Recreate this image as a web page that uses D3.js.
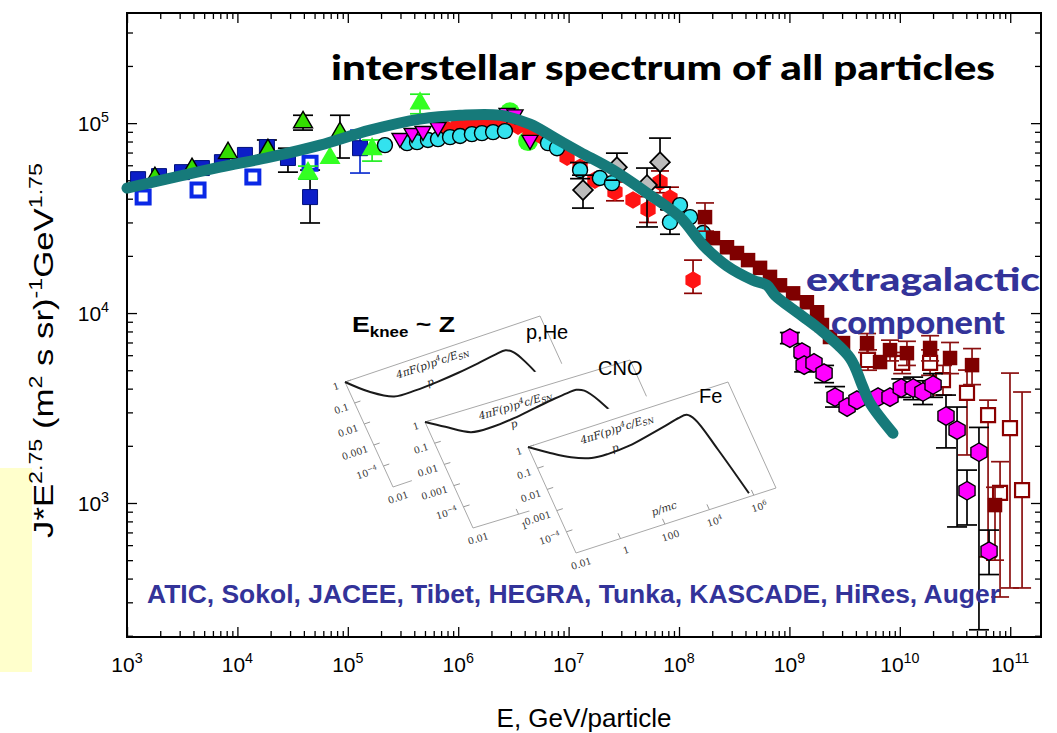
<!DOCTYPE html>
<html>
<head>
<meta charset="utf-8">
<script src="https://cdn.jsdelivr.net/npm/d3@7"></script>
<style>
  html, body { margin: 0; padding: 0; background: #fff; }
  svg { display: block; }
</style>
</head>
<body>
<svg id="chart" width="1057" height="733"></svg>
<script>
// ---------------------------------------------------------------
// Cosmic-ray all-particle spectrum, J*E^2.75 vs energy per particle.
// Rows are [E (GeV), J*E^2.75, lower error, upper error].
// ---------------------------------------------------------------
const xDecades = [3, 4, 5, 6, 7, 8, 9, 10, 11];
const yDecades = [3, 4, 5];

const aticFilled = [
  [1.26e3, 5.07e4], [1.95e3, 5.26e4], [3.15e3, 5.52e4], [4.77e3, 5.80e4],
  [7.24e3, 6.23e4], [1.17e4, 6.80e4], [1.85e4, 7.48e4, 6.80e4, 8.15e4],
  [2.87e4, 6.55e4, 5.52e4, 7.38e4], [4.55e4, 4.08e4, 2.98e4, 5.66e4]
];
const aticFilledHigh = [[1.29e5, 7.38e4, 5.46e4, 9.19e4]];
const sokolOpen = [[1.40e3, 4.08e4], [4.40e3, 4.44e4], [1.38e4, 5.20e4], [4.55e4, 6.15e4]];

const jaceeTri = [
  [1.79e3, 5.14e4], [3.88e3, 5.73e4], [8.22e3, 6.95e4], [1.89e4, 7.21e4],
  [3.93e4, 1.01e5, 9.19e4, 1.10e5], [8.49e4, 8.86e4, 6.55e4, 1.10e5]
];
const runjobTri = [
  [4.36e4, 5.46e4, 5.07e4, 5.94e4], [6.90e4, 6.55e4],
  [1.66e5, 7.29e4, 6.31e4, 8.15e4], [4.51e5, 1.27e5, 1.12e5, 1.42e5]
];
const runjobCircle = [[2.94e6, 1.14e5], [4.29e6, 8.04e4]];

const hegraTri = [
  [2.97e5, 8.34e4], [3.82e5, 8.86e4], [4.80e5, 9.08e4], [6.56e5, 9.53e4],
  [2.77e6, 1.13e5], [3.27e6, 1.11e5], [4.47e6, 8.15e4]
];

const tibetCircle = [
  [2.17e5, 7.66e4], [3.44e5, 7.85e4], [4.24e5, 7.94e4], [5.32e5, 8.15e4],
  [6.56e5, 8.24e4], [8.43e5, 8.44e4], [1.04e6, 8.55e4], [1.33e6, 8.75e4],
  [1.64e6, 8.86e4], [2.07e6, 8.97e4], [2.65e6, 9.08e4], [6.50e6, 7.85e4],
  [7.85e6, 7.38e4], [1.27e7, 5.66e4, 5.10e4, 6.20e4], [1.92e7, 5.14e4],
  [2.47e7, 4.83e4], [8.28e7, 3.01e4, 2.60e4, 3.50e4], [1.02e8, 3.70e4],
  [1.26e8, 3.20e4], [1.65e8, 2.64e4]
];

const kascadeHex = [
  [7.59e5, 9.42e4], [9.95e5, 9.64e4], [1.28e6, 9.76e4], [1.64e6, 9.76e4],
  [2.11e6, 9.88e4], [2.71e6, 9.88e4], [3.48e6, 9.64e4], [4.47e6, 9.19e4],
  [5.51e6, 8.65e4], [7.08e6, 7.85e4], [9.68e6, 6.62e4], [1.27e7, 5.86e4],
  [1.73e7, 5.01e4], [2.63e7, 4.34e4, 3.90e4, 4.90e4], [3.83e7, 3.94e4],
  [5.24e7, 3.52e4, 3.00e4, 4.10e4], [6.73e7, 4.89e4, 4.30e4, 5.60e4],
  [8.28e7, 4.03e4, 3.50e4, 4.60e4], [1.34e8, 1.49e4, 1.27e4, 1.90e4]
];

const tunkaDiamond = [
  [1.35e7, 4.44e4, 3.57e4, 5.32e4], [2.74e7, 5.86e4, 5.01e4, 6.95e4],
  [5.13e7, 4.72e4, 2.84e4, 5.80e4], [6.73e7, 6.23e4, 4.60e4, 8.34e4]
];

const hiresFilled = [
  [1.72e8, 3.20e4, 2.70e4, 3.80e4], [2.03e8, 2.48e4], [2.72e8, 2.22e4],
  [3.35e8, 2.07e4], [4.22e8, 1.90e4], [5.42e8, 1.73e4], [6.67e8, 1.55e4],
  [8.22e8, 1.40e4], [1.08e9, 1.27e4], [1.44e9, 1.14e4], [1.78e9, 1.01e4],
  [1.97e9, 8.65e3], [2.33e9, 7.48e3], [3.06e9, 6.95e3],
  [5.05e9, 6.95e3, 6.20e3, 7.80e3], [6.62e9, 5.52e3],
  [8.15e9, 6.38e3, 5.60e3, 7.20e3], [1.16e10, 6.15e3, 5.30e3, 7.10e3],
  [1.88e10, 6.55e3, 5.60e3, 7.60e3], [2.85e10, 5.80e3, 4.80e3, 7.00e3],
  [4.51e10, 5.32e3, 4.20e3, 6.50e3], [7.28e10, 975, 500, 1.21e3]
];
const hiresOpen = [
  [5.15e9, 5.66e3, 5.00e3, 6.40e3], [1.05e10, 5.46e3, 4.80e3, 6.20e3],
  [1.88e10, 5.46e3, 4.70e3, 6.40e3], [2.46e10, 4.44e3, 3.70e3, 5.30e3],
  [4.06e10, 3.80e3, 1.79e3, 5.01e3], [6.30e10, 2.90e3, 520, 3.48e3],
  [9.95e10, 2.48e3, 357, 4.83e3], [8.09e10, 1.13e3, 320, 1.65e3],
  [1.28e11, 1.17e3, 357, 3.84e3]
];

const augerHex = [
  [1.01e9, 7.38e3, 6.90e3, 7.90e3], [1.30e9, 6.23e3], [1.36e9, 5.32e3, 4.90e3, 5.80e3],
  [1.67e9, 5.46e3], [2.06e9, 4.83e3, 4.30e3, 5.30e3], [2.59e9, 3.61e3, 3.20e3, 4.10e3],
  [3.33e9, 3.20e3], [4.09e9, 3.48e3], [6.35e9, 3.61e3], [8.15e9, 3.61e3],
  [1.03e10, 4.03e3, 3.60e3, 4.50e3], [1.32e10, 4.03e3, 3.50e3, 4.60e3],
  [1.62e10, 3.84e3, 3.30e3, 4.40e3], [2.00e10, 4.18e3, 3.60e3, 4.80e3],
  [2.62e10, 2.87e3, 1.95e3, 3.70e3], [3.30e10, 2.42e3, 748, 3.20e3],
  [5.21e10, 1.85e3, 215, 2.50e3], [4.06e10, 1.16e3, 766, 1.49e3],
  [6.43e10, 558, 420, 720]
];

// Galactic (interstellar) model spectrum
const modelE = [1.00e3, 2.72e3, 6.95e3, 1.97e4, 5.60e4, 1.59e5, 4.51e5, 1.04e6, 2.39e6,
  4.47e6, 7.53e6, 1.27e7, 2.52e7, 5.13e7, 1.02e8, 1.65e8, 2.72e8, 4.68e8, 6.27e8,
  7.41e8, 1.17e9, 1.78e9, 3.54e9, 4.55e9, 5.37e9, 8.67e9];
const modelJ = [4.55e4, 5.20e4, 5.86e4, 6.62e4, 7.66e4, 9.19e4, 1.05e5, 1.10e5, 1.10e5,
  9.88e4, 8.34e4, 7.03e4, 5.66e4, 4.29e4, 3.20e4, 2.28e4, 1.77e4, 1.49e4, 1.40e4,
  1.24e4, 1.01e4, 8.43e3, 5.80e3, 4.18e3, 3.36e3, 2.33e3];

// Source spectra 4πF(p)p^4c/E_SN versus p/mc for three groups of nuclei
const pHeP = [0.01, 0.063, 0.5, 5, 50, 500, 5000, 3.2e4, 1e5, 2e5, 4e5, 8e5, 2e6];
const pHeF = [1, 0.18, 0.052, 0.047, 0.052, 0.063, 0.083, 0.107, 0.117, 0.071, 0.018, 0.0025, 6.3e-5];
const cnoP = [0.01, 0.05, 0.4, 3.2, 32, 320, 2500, 1e4, 2.5e4, 5e4, 1.26e5, 3.2e5, 8e5];
const cnoF = [1, 0.35, 0.1, 0.089, 0.11, 0.16, 0.22, 0.26, 0.275, 0.2, 0.05, 0.005, 3.2e-5];
const feP = [0.01, 0.05, 0.32, 2, 10, 100, 1000, 6300, 2.5e4, 6.3e4, 1.1e5, 2.5e5, 7e5];
const feF = [1, 0.32, 0.1, 0.05, 0.044, 0.05, 0.076, 0.11, 0.15, 0.16, 0.08, 0.0025, 1.4e-5];
const panelYTicks = [1, 0.1, 0.01, 0.001, 1e-4];
const panelYLabels = ["1", "0.1", "0.01", "0.001", "10^-4"];
const panelXTicks = [1, 100, 1e4, 1e6];
const panelXLabels = ["1", "100", "10^4", "10^6"];

const experiments = "ATIC, Sokol, JACEE, Tibet, HEGRA, Tunka, KASCADE, HiRes, Auger";

// ---------------------------------------------------------------
const svg = d3.select("#chart");
const M = { left: 127, right: 1041, top: 13, bottom: 637 };
const x = d3.scaleLog().domain([1e3, 1.9e11]).range([M.left, M.right]);
const y = d3.scaleLog().domain([197, 3.8e5]).range([M.bottom, M.top]);

const SANS = "'Liberation Sans', Arial, Helvetica, sans-serif";

// pale side box
svg.append("rect").attr("x", 0).attr("y", 468).attr("width", 32).attr("height", 204)
  .attr("fill", "#ffffcc");

// ---- axes: log ticks on all four sides, pointing inward ----
function minorVals(scale) {
  const [a, b] = scale.domain();
  const out = [];
  for (let d = Math.floor(Math.log10(a)); d <= Math.ceil(Math.log10(b)); d++) {
    for (let k = 2; k <= 9; k++) {
      const v = k * Math.pow(10, d);
      if (v >= a && v <= b) out.push(v);
    }
  }
  return out;
}
const xMajor = xDecades.map(d => Math.pow(10, d));
const yMajor = yDecades.map(d => Math.pow(10, d));
const axG = svg.append("g");
function addAxis(gen, tx, ty, vals, len) {
  const g = axG.append("g").attr("transform", `translate(${tx},${ty})`)
    .call(gen.tickValues(vals).tickSize(len).tickFormat(""));
  g.select(".domain").remove();
  g.selectAll(".tick line").attr("stroke", "#000").attr("stroke-width", 1.3);
}
addAxis(d3.axisBottom(x), 0, M.bottom, xMajor, -10);
addAxis(d3.axisBottom(x), 0, M.bottom, minorVals(x), -6);
addAxis(d3.axisTop(x), 0, M.top, xMajor, -10);
addAxis(d3.axisTop(x), 0, M.top, minorVals(x), -6);
addAxis(d3.axisLeft(y), M.left, 0, yMajor, -10);
addAxis(d3.axisLeft(y), M.left, 0, minorVals(y), -6);
addAxis(d3.axisRight(y), M.right, 0, yMajor, -10);
addAxis(d3.axisRight(y), M.right, 0, minorVals(y), -6);
axG.append("rect").attr("x", M.left).attr("y", M.top)
  .attr("width", M.right - M.left).attr("height", M.bottom - M.top)
  .attr("fill", "none").attr("stroke", "#000").attr("stroke-width", 2);

// power-of-ten tick labels
function powLabel(g, base, exp, size) {
  g.append("tspan").text(base);
  g.append("tspan").attr("font-size", size * 0.68).attr("dy", -size * 0.42).text(exp);
}
xDecades.forEach(d => {
  const t = svg.append("text").attr("x", x(Math.pow(10, d))).attr("y", 672)
    .attr("text-anchor", "middle").attr("font-family", SANS).attr("font-size", 21);
  powLabel(t, "10", d, 21);
});
yDecades.forEach(d => {
  const t = svg.append("text").attr("x", 109).attr("y", y(Math.pow(10, d)) + 8)
    .attr("text-anchor", "end").attr("font-family", SANS).attr("font-size", 21);
  powLabel(t, "10", d, 21);
});

// axis titles
svg.append("text").attr("x", 584).attr("y", 727).attr("text-anchor", "middle")
  .attr("font-family", SANS).attr("font-size", 26).text("E, GeV/particle");

const yt = svg.append("text").attr("font-family", SANS).attr("font-size", 27);
[["J*E", 0], ["2.75", 1], [" (m", 0], ["2", 1], [" s sr)", 0], ["-1", 1], ["GeV", 0], ["1.75", 1]]
  .forEach(([s, sup], i, arr) => {
    const prevSup = i > 0 ? arr[i - 1][1] : 0;
    const ts = yt.append("tspan").text(s);
    if (sup) ts.attr("font-size", 18).attr("dy", -11);
    else if (prevSup) ts.attr("dy", 11);
  });
const ytLen = yt.node().getComputedTextLength();
yt.attr("transform", `translate(53,538) rotate(-90) scale(${375 / ytLen},1)`);

// ---- inset: source spectra for p,He / CNO / Fe drawn as tilted panels ----
const inset = svg.append("g");
const panelX = d3.scaleLog().domain([1e-2, 1e7]).range([0, 1]);
const panelY = d3.scaleLog().domain([1, 1e-5]).range([0, 1]);
function drawPanel(def, ps, fs) {
  const P = (u, v) => [def.o[0] + u * def.u[0] + v * def.v[0], def.o[1] + u * def.u[1] + v * def.v[1]];
  const ang = Math.atan2(def.u[1], def.u[0]) * 180 / Math.PI;
  const g = inset.append("g");
  const bg = [P(-def.ml, -def.mt), P(1.05, -def.mt), P(1.05, 1.22), P(-def.ml, 1.22)];
  g.append("polygon").attr("points", bg.map(p => p.join(",")).join(" ")).attr("fill", "#fff");
  const frame = [P(0, 0), P(1, 0), P(1, 1), P(0, 1)];
  g.append("polygon").attr("points", frame.map(p => p.join(",")).join(" "))
    .attr("fill", "none").attr("stroke", "#a8a8a8").attr("stroke-width", 1);
  const serif = "'DejaVu Serif', 'Liberation Serif', serif";
  function lbl(pt, txt, anchor, size) {
    const t = g.append("text").attr("transform", `translate(${pt[0]},${pt[1]}) rotate(${ang})`)
      .attr("text-anchor", anchor).attr("font-family", serif).attr("font-size", size).attr("fill", "#333");
    if (txt.includes("^")) {
      const [b, e] = txt.split("^");
      t.append("tspan").text(b);
      t.append("tspan").attr("font-size", size * 0.7).attr("dy", -size * 0.4).text(e.replace("-", "\u2212"));
    } else t.text(txt);
  }
  panelYTicks.forEach((val, i) => {
    const v = panelY(val);
    const a = P(0, v), b = P(0.03, v);
    g.append("line").attr("x1", a[0]).attr("y1", a[1]).attr("x2", b[0]).attr("y2", b[1])
      .attr("stroke", "#999");
    const lp = P(-0.035, v + 0.04);
    lbl(lp, panelYLabels[i], "end", 9.5);
  });
  lbl(P(0.0, 1.13), "0.01", "middle", 9.5);
  panelXTicks.forEach((val, i) => {
    const u = panelX(val);
    const a = P(u, 1), b = P(u, 0.95);
    g.append("line").attr("x1", a[0]).attr("y1", a[1]).attr("x2", b[0]).attr("y2", b[1])
      .attr("stroke", "#999");
    lbl(P(u, 1.14), panelXLabels[i], "middle", 9.5);
  });
  g.append("text").attr("transform", `translate(${P(0.47, 0.9).join(",")}) rotate(${ang})`)
    .attr("text-anchor", "middle").attr("font-family", serif).attr("font-style", "italic")
    .attr("font-size", 10.5).attr("fill", "#333").text("p/mc");
  const ft = g.append("text").attr("transform", `translate(${P(0.24, 0.12).join(",")}) rotate(${ang})`)
    .attr("font-family", serif).attr("font-style", "italic").attr("font-size", 10.5).attr("fill", "#222");
  ft.append("tspan").text("4\u03c0F(p)p");
  ft.append("tspan").attr("font-size", 7.5).attr("dy", -4).text("4");
  ft.append("tspan").attr("dy", 4).text("c/E");
  ft.append("tspan").attr("font-size", 7.5).attr("dy", 2).text("SN");
  g.append("text").attr("transform", `translate(${P(0.36, 0.27).join(",")}) rotate(${ang})`)
    .attr("font-family", serif).attr("font-style", "italic").attr("font-size", 10.5).attr("fill", "#222").text("p");
  const pts = ps.map((p, i) => P(panelX(p), panelY(fs[i])));
  g.append("path").attr("d", d3.line().curve(d3.curveCatmullRom.alpha(0.5))(pts))
    .attr("fill", "none").attr("stroke", "#1a1a1a").attr("stroke-width", 2);
}
drawPanel({ o: [345, 382], u: [195, -66], v: [48, 105], ml: 0.12, mt: 0.14 }, pHeP, pHeF);
drawPanel({ o: [425, 422], u: [205, -62], v: [48, 106], ml: 0.17, mt: 0.14 }, cnoP, cnoF);
drawPanel({ o: [528, 447], u: [200, -65], v: [48, 106], ml: 0.12, mt: 0.10 }, feP, feF);

const knee = inset.append("text").attr("x", 352).attr("y", 332)
  .attr("font-family", SANS).attr("font-weight", "bold").attr("font-size", 22)
  .attr("textLength", 103).attr("lengthAdjust", "spacingAndGlyphs");
knee.append("tspan").text("E");
knee.append("tspan").attr("font-size", 14).attr("dy", 5).text("knee");
knee.append("tspan").attr("dy", -5).text(" ~ Z");
[["p,He", 526, 339], ["CNO", 598, 375], ["Fe", 699, 403]].forEach(([s, tx, ty]) => {
  inset.append("text").attr("x", tx).attr("y", ty).attr("font-family", SANS)
    .attr("font-size", 20).text(s);
});

// ---- measurements ----
const dataG = svg.append("g");
function hexPath(r) {
  const pts = d3.range(6).map(i => {
    const a = Math.PI / 3 * i - Math.PI / 2;
    return [r * Math.cos(a), r * Math.sin(a)];
  });
  return "M" + pts.map(p => p.join(",")).join("L") + "Z";
}
function errorBars(rows, color, cap, width) {
  const g = dataG.append("g").attr("stroke", color).attr("stroke-width", width || 1.7);
  rows.filter(r => r.length > 2).forEach(r => {
    const cx = x(r[0]);
    g.append("line").attr("x1", cx).attr("x2", cx).attr("y1", y(r[2])).attr("y2", y(r[3]));
    [r[2], r[3]].forEach(v => g.append("line").attr("x1", cx - cap / 2).attr("x2", cx + cap / 2)
      .attr("y1", y(v)).attr("y2", y(v)));
  });
}
function markers(rows, pathD, style, rot) {
  const g = dataG.append("g");
  rows.forEach(r => {
    const p = g.append("path").attr("d", pathD)
      .attr("transform", `translate(${x(r[0])},${y(r[1])})${rot ? ` rotate(${rot})` : ""}`);
    Object.entries(style).forEach(([k, v]) => p.attr(k, v));
  });
}
const sq = s => d3.symbol(d3.symbolSquare, s * s)();
const tri = a => d3.symbol(d3.symbolTriangle, a * a * Math.sqrt(3) / 4)();
const circ = r => d3.symbol(d3.symbolCircle, Math.PI * r * r)();

errorBars(aticFilled, "#000", 20);
errorBars(aticFilledHigh, "#1030d0", 20);
markers(sokolOpen, sq(13), { fill: "#fff", stroke: "#0a28e6", "stroke-width": 4 });
markers(aticFilled.concat(aticFilledHigh), sq(15), { fill: "#0c1ec8", stroke: "#00107a", "stroke-width": 1 });

errorBars(jaceeTri, "#000", 20);
markers(jaceeTri, tri(19), { fill: "#33dd00", stroke: "#000", "stroke-width": 1.4 });
errorBars(runjobTri, "#22ee22", 20);
markers(runjobTri, tri(21), { fill: "#33ff22" });
markers(runjobCircle, circ(10), { fill: "#33ff22" });

errorBars(kascadeHex, "#8b0000", 18);
markers(kascadeHex, hexPath(8.8), { fill: "#ff1414" });
errorBars(tibetCircle, "#000", 20);
markers(tibetCircle, circ(7.5), { fill: "#33e2ee", stroke: "#000", "stroke-width": 1.4 });
markers(hegraTri, tri(16), { fill: "#ff00ff", stroke: "#000", "stroke-width": 1.4 }, 180);

errorBars(tunkaDiamond, "#000", 22);
markers(tunkaDiamond, sq(14), { fill: "#bcbcbc", stroke: "#000", "stroke-width": 1.7 }, 45);

errorBars(hiresOpen, "#8b1010", 18);
markers(hiresOpen, sq(14), { fill: "#fff", stroke: "#8b0000", "stroke-width": 2.2 });
errorBars(hiresFilled, "#8b1010", 18);
markers(hiresFilled, sq(14.5), { fill: "#7f0000" });

errorBars(augerHex, "#000", 20);
markers(augerHex, hexPath(9.3), { fill: "#ff00ff", stroke: "#000", "stroke-width": 1.4 });

// model curve on top of the measurements
svg.append("path")
  .attr("d", d3.line().x((d, i) => x(modelE[i])).y(d => y(d)).curve(d3.curveCatmullRom.alpha(0.5))(modelJ))
  .attr("fill", "none").attr("stroke", "#167a7a").attr("stroke-width", 11)
  .attr("stroke-linecap", "round").attr("stroke-linejoin", "round");

// ---- annotations ----
svg.append("text").attr("x", 331).attr("y", 80).attr("textLength", 664).attr("lengthAdjust", "spacingAndGlyphs")
  .attr("font-family", "Lato, 'Open Sans', sans-serif").attr("font-weight", 900).attr("font-size", 35)
  .attr("fill", "#000").text("interstellar spectrum of all particles");
svg.append("text").attr("x", 806).attr("y", 291).attr("textLength", 234).attr("lengthAdjust", "spacingAndGlyphs")
  .attr("font-family", "Lato, 'Open Sans', sans-serif").attr("font-weight", 900).attr("font-size", 33)
  .attr("fill", "#333399").text("extragalactic");
svg.append("text").attr("x", 831).attr("y", 334).attr("textLength", 174).attr("lengthAdjust", "spacingAndGlyphs")
  .attr("font-family", "Lato, 'Open Sans', sans-serif").attr("font-weight", 900).attr("font-size", 33)
  .attr("fill", "#333399").text("component");
svg.append("text").attr("x", 147).attr("y", 603).attr("textLength", 853).attr("lengthAdjust", "spacingAndGlyphs")
  .attr("font-family", "'Liberation Sans Narrow', 'Liberation Sans', Arial, sans-serif")
  .attr("font-weight", "bold").attr("font-size", 26).attr("fill", "#333399").text(experiments);
</script>
</body>
</html>
